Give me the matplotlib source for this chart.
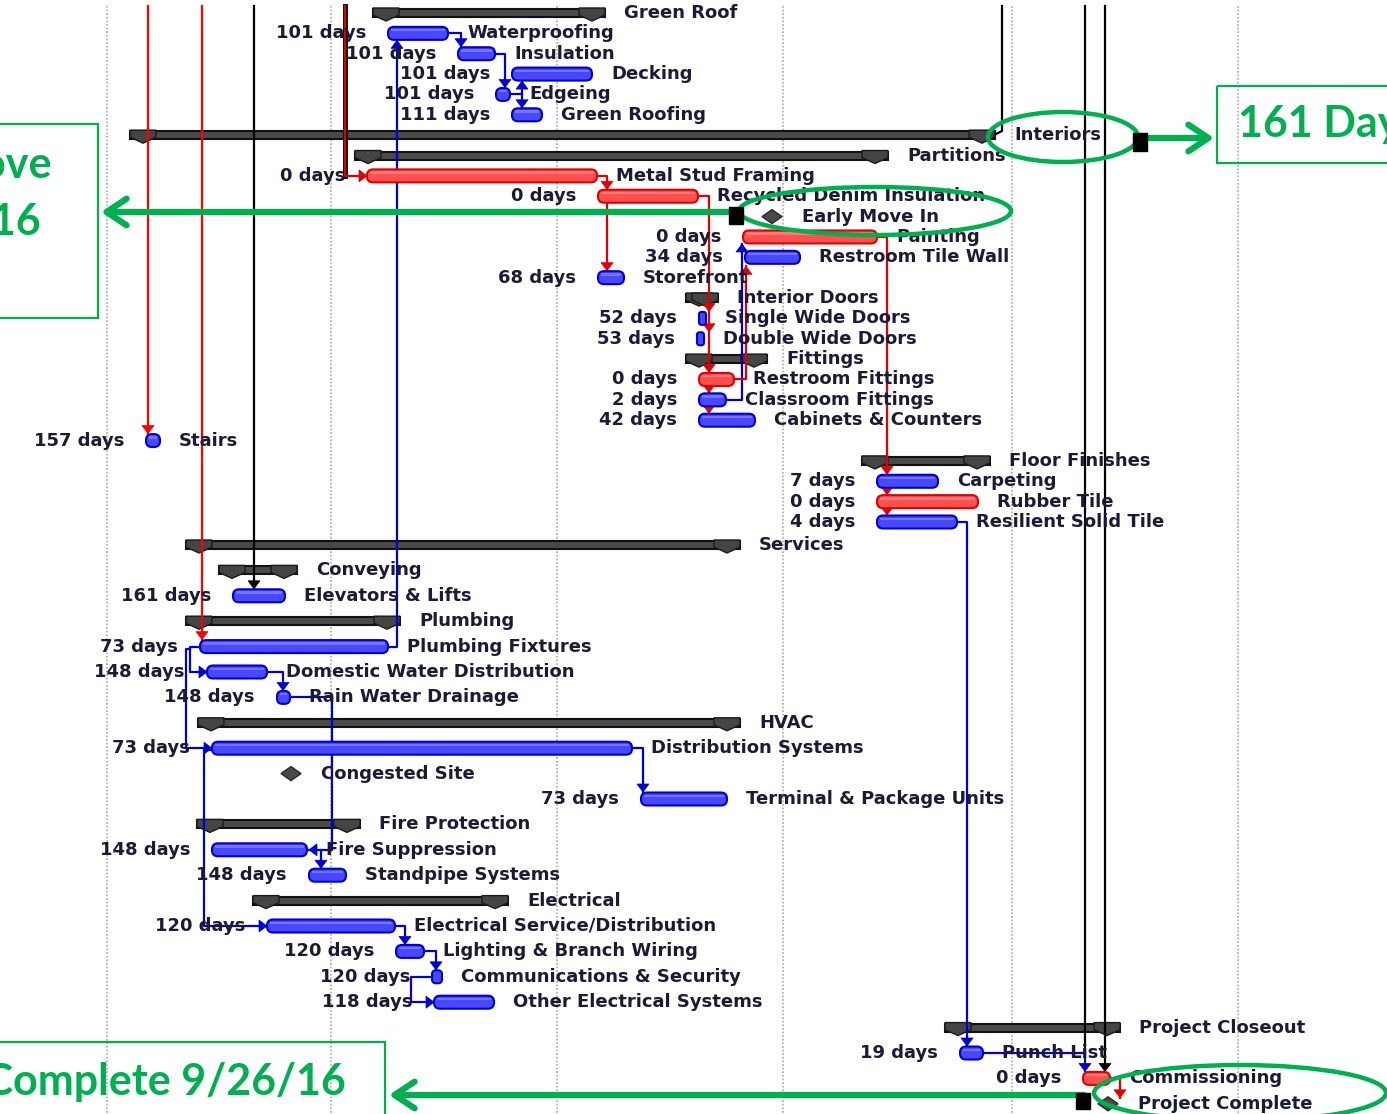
import matplotlib
matplotlib.use('Agg')
import matplotlib.pyplot as plt
from matplotlib.patches import FancyBboxPatch, Polygon, Rectangle, Ellipse

W, H = 1387, 1114

# schedule rows, top to bottom (start/finish on the timeline scale of the view)
names = ['Green Roof', 'Waterproofing', 'Insulation', 'Decking', 'Edgeing', 'Green Roofing',
         'Interiors', 'Partitions', 'Metal Stud Framing', 'Recycled Denim Insulation',
         'Early Move In', 'Painting', 'Restroom Tile Wall', 'Storefront', 'Interior Doors',
         'Single Wide Doors', 'Double Wide Doors', 'Fittings', 'Restroom Fittings',
         'Classroom Fittings', 'Cabinets & Counters', 'Stairs', 'Floor Finishes', 'Carpeting',
         'Rubber Tile', 'Resilient Solid Tile',
         'Services', 'Conveying', 'Elevators & Lifts', 'Plumbing', 'Plumbing Fixtures',
         'Domestic Water Distribution', 'Rain Water Drainage', 'HVAC', 'Distribution Systems',
         'Congested Site', 'Terminal & Package Units', 'Fire Protection', 'Fire Suppression',
         'Standpipe Systems', 'Electrical', 'Electrical Service/Distribution',
         'Lighting & Branch Wiring', 'Communications & Security', 'Other Electrical Systems',
         'Project Closeout', 'Punch List', 'Commissioning', 'Project Complete']
kinds = ['sum', 'task', 'task', 'task', 'task', 'task',
         'sum', 'sum', 'crit', 'crit',
         'mile', 'crit', 'task', 'task', 'sum',
         'task', 'task', 'sum', 'crit',
         'task', 'task', 'task', 'sum', 'task',
         'crit', 'task',
         'sum', 'sum', 'task', 'sum', 'task',
         'task', 'task', 'sum', 'task',
         'mile', 'task', 'sum', 'task',
         'task', 'sum', 'task',
         'task', 'task', 'task',
         'sum', 'task', 'crit', 'mile']
starts = [373, 388, 458, 512, 496, 512,
          130, 355, 367, 598,
          772, 743, 745, 598, 686,
          699, 697, 686, 699,
          699, 699, 146, 862, 877,
          877, 877,
          186, 219, 233, 186, 200,
          207, 277, 198, 212,
          291, 641, 197, 212,
          309, 253, 267,
          396, 432, 434,
          945, 960, 1083, 1108]
finishes = [605, 448, 495, 592, 510, 542,
            995, 888, 597, 698,
            772, 877, 800, 624, 718,
            706, 704, 767, 734,
            726, 755, 160, 990, 938,
            978, 957,
            740, 297, 285, 400, 388,
            267, 290, 740, 632,
            291, 727, 360, 307,
            346, 508, 395,
            424, 442, 494,
            1120, 983, 1110, 1108]
durations = [None, '101 days', '101 days', '101 days', '101 days', '111 days',
             None, None, '0 days', '0 days',
             None, '0 days', '34 days', '68 days', None,
             '52 days', '53 days', None, '0 days',
             '2 days', '42 days', '157 days', None, '7 days',
             '0 days', '4 days',
             None, None, '161 days', None, '73 days',
             '148 days', '148 days', None, '73 days',
             None, '73 days', None, '148 days',
             '148 days', None, '120 days',
             '120 days', '120 days', '118 days',
             None, '19 days', '0 days', None]

# timescale gridlines
grid_x = [107, 331, 557, 783, 1012, 1238]

# predecessors outside the view (timeline x of incoming line, target task, colour)
outside_links = [(148, 'Stairs', 'red'), (202, 'Plumbing Fixtures', 'red'),
                 (254, 'Elevators & Lifts', 'black'), (1105, 'Commissioning', 'black')]

BLUE_FC, BLUE_EC = '#4848ff', '#0000d0'
RED_FC, RED_EC = '#ff5050', '#e00000'
TXT = '#1b1b36'
GREEN = '#00b050'

idx = {n: i for i, n in enumerate(names)}


def row_y(name):
    i = idx[name]
    # two screen grabs stacked: the lower one has taller rows
    return 13 + i * 20.36 if i < 26 else 545 + (i - 26) * 25.4


def s(n):
    return starts[idx[n]]


def f(n):
    return finishes[idx[n]]


def top(n):
    return row_y(n) - 7


def bot(n):
    return row_y(n) + 7


fig = plt.figure(figsize=(W / 100, H / 100), dpi=100)
ax = fig.add_axes([0, 0, 1, 1])
ax.set_xlim(0, W)
ax.set_ylim(H, 0)
ax.axis('off')

for gx in grid_x:
    ax.plot([gx, gx], [6, H], color='#b4b4b4', ls=(0, (1, 1)), lw=1.3, zorder=0)


def arrowhead(x, y, d, color):
    a, b = 8, 6
    if d == 'down':
        pts = [(x - b, y - a), (x + b, y - a), (x, y)]
    elif d == 'up':
        pts = [(x - b, y + a), (x + b, y + a), (x, y)]
    elif d == 'right':
        pts = [(x - a, y - b), (x - a, y + b), (x, y)]
    else:
        pts = [(x + a, y - b), (x + a, y + b), (x, y)]
    ax.add_patch(Polygon(pts, closed=True, fc=color, ec=color, lw=0.5, zorder=4))


def route(pts, color, d=None, heads=()):
    xs = [p[0] for p in pts]
    ys = [p[1] for p in pts]
    ax.plot(xs, ys, color=color, lw=1.6, zorder=3, solid_joinstyle='round')
    if d:
        arrowhead(xs[-1], ys[-1], d, color)
    for hx, hy, hd in heads:
        arrowhead(hx, hy, hd, color)


# lines coming in from above the view
for x0, tgt, col in outside_links:
    route([(x0, 6), (x0, top(tgt))], col, 'down')
ax.plot([345, 345], [6, row_y('Metal Stud Framing')], color='black', lw=3.5, zorder=3)
route([(345, 6), (345, row_y('Metal Stud Framing')), (s('Metal Stud Framing'), row_y('Metal Stud Framing'))],
      RED_EC, 'right')
ax.plot([1002, 1002, 996], [6, 131, 134], color='black', lw=1.6, zorder=3)
ax.plot([1085, 1085], [6, row_y('Punch List')], color='black', lw=1.6, zorder=3)

# dependency links inside the view
y = row_y
route([(f('Waterproofing'), y('Waterproofing')), (s('Insulation') + 3, y('Waterproofing')),
       (s('Insulation') + 3, top('Insulation'))], BLUE_EC, 'down')
route([(f('Insulation'), y('Insulation')), (f('Insulation') + 10, y('Insulation')),
       (f('Insulation') + 10, top('Edgeing'))], BLUE_EC, 'down')
route([(f('Edgeing'), y('Edgeing')), (f('Edgeing') + 12, y('Edgeing')),
       (f('Edgeing') + 12, bot('Decking'))], BLUE_EC, 'up')
route([(f('Edgeing') + 12, y('Edgeing')), (f('Edgeing') + 12, top('Green Roofing'))], BLUE_EC, 'down')
route([(f('Plumbing Fixtures'), y('Plumbing Fixtures')), (f('Plumbing Fixtures') + 9, y('Plumbing Fixtures')),
       (f('Plumbing Fixtures') + 9, bot('Waterproofing'))], BLUE_EC, 'up')
route([(s('Plumbing Fixtures'), y('Plumbing Fixtures')), (s('Plumbing Fixtures') - 10, y('Plumbing Fixtures')),
       (s('Plumbing Fixtures') - 10, y('Domestic Water Distribution')),
       (s('Domestic Water Distribution'), y('Domestic Water Distribution'))], BLUE_EC, 'right')
route([(s('Plumbing Fixtures') - 10, y('Plumbing Fixtures') + 2), (s('Plumbing Fixtures') - 14, y('Plumbing Fixtures') + 2),
       (s('Plumbing Fixtures') - 14, y('Distribution Systems')),
       (s('Distribution Systems'), y('Distribution Systems'))], BLUE_EC, 'right')
route([(f('Domestic Water Distribution'), y('Domestic Water Distribution')),
       (s('Rain Water Drainage') + 6, y('Domestic Water Distribution')),
       (s('Rain Water Drainage') + 6, top('Rain Water Drainage'))], BLUE_EC, 'down')
route([(f('Rain Water Drainage'), y('Rain Water Drainage')), (f('Fire Suppression') + 25, y('Rain Water Drainage')),
       (f('Fire Suppression') + 25, y('Fire Suppression')), (f('Fire Suppression') + 2, y('Fire Suppression'))],
      BLUE_EC, 'left')
route([(s('Standpipe Systems') + 12, y('Fire Suppression')), (s('Standpipe Systems') + 12, top('Standpipe Systems'))],
      BLUE_EC, 'down')
route([(f('Distribution Systems'), y('Distribution Systems')), (s('Terminal & Package Units') + 2, y('Distribution Systems')),
       (s('Terminal & Package Units') + 2, top('Terminal & Package Units'))], BLUE_EC, 'down')
route([(s('Distribution Systems'), y('Distribution Systems') + 2), (s('Distribution Systems') - 8, y('Distribution Systems') + 2),
       (s('Distribution Systems') - 8, y('Electrical Service/Distribution')),
       (s('Electrical Service/Distribution'), y('Electrical Service/Distribution'))], BLUE_EC, 'right')
route([(f('Electrical Service/Distribution'), y('Electrical Service/Distribution')),
       (f('Electrical Service/Distribution') + 10, y('Electrical Service/Distribution')),
       (f('Electrical Service/Distribution') + 10, top('Lighting & Branch Wiring'))], BLUE_EC, 'down')
route([(f('Lighting & Branch Wiring'), y('Lighting & Branch Wiring')),
       (f('Lighting & Branch Wiring') + 12, y('Lighting & Branch Wiring')),
       (f('Lighting & Branch Wiring') + 12, top('Communications & Security'))], BLUE_EC, 'down')
route([(s('Communications & Security'), y('Communications & Security')),
       (s('Communications & Security') - 21, y('Communications & Security')),
       (s('Communications & Security') - 21, y('Other Electrical Systems')),
       (s('Other Electrical Systems'), y('Other Electrical Systems'))], BLUE_EC, 'right')
route([(f('Resilient Solid Tile'), y('Resilient Solid Tile')), (f('Resilient Solid Tile') + 10, y('Resilient Solid Tile')),
       (f('Resilient Solid Tile') + 10, top('Punch List'))], BLUE_EC, 'down')
route([(f('Punch List'), y('Punch List')), (s('Commissioning') + 2, y('Punch List')),
       (s('Commissioning') + 2, top('Commissioning'))], BLUE_EC, 'down')
route([(f('Classroom Fittings'), y('Classroom Fittings')), (s('Painting') - 1, y('Classroom Fittings')),
       (s('Painting') - 1, bot('Painting'))], BLUE_EC, 'up')

# critical path links
xr = s('Recycled Denim Insulation') + 9
route([(f('Metal Stud Framing'), y('Metal Stud Framing')), (xr, y('Metal Stud Framing')), (xr, top('Storefront'))],
      RED_EC, 'down', heads=[(xr, top('Recycled Denim Insulation'), 'down')])
xd = f('Recycled Denim Insulation') + 11
route([(f('Recycled Denim Insulation'), y('Recycled Denim Insulation')), (xd, y('Recycled Denim Insulation')),
       (xd, top('Cabinets & Counters'))], RED_EC, 'down',
      heads=[(xd, top(n), 'down') for n in ['Single Wide Doors', 'Double Wide Doors',
                                            'Restroom Fittings', 'Classroom Fittings']])
route([(f('Restroom Fittings'), y('Restroom Fittings')), (f('Restroom Fittings') + 12, y('Restroom Fittings')),
       (f('Restroom Fittings') + 12, bot('Restroom Tile Wall') + 2)], RED_EC, 'up')
xp = f('Painting') + 10
route([(f('Painting'), y('Painting')), (xp, y('Painting')), (xp, top('Resilient Solid Tile'))], RED_EC, 'down',
      heads=[(xp, top('Carpeting'), 'down'), (xp, top('Rubber Tile'), 'down')])
route([(f('Commissioning'), y('Commissioning')), (f('Commissioning') + 10, y('Commissioning')),
       (f('Commissioning') + 10, y('Project Complete') - 6)], RED_EC, 'down')

# bars, milestones and labels
txt_kw = dict(fontsize=13, fontweight='bold', color=TXT, family='DejaVu Sans', va='center', zorder=6)
for i, n in enumerate(names):
    yy = row_y(n)
    x0, x1, k = starts[i], finishes[i], kinds[i]
    if k == 'sum':
        ax.add_patch(Rectangle((x0, yy - 4), x1 - x0, 8, fc='#4a4a4a', ec='#111111', lw=1.5, zorder=2))
        for cx in (x0, x1 - 26):
            cap = [(cx, yy - 5), (cx + 26, yy - 5), (cx + 26, yy + 2), (cx + 13, yy + 8), (cx, yy + 2)]
            ax.add_patch(Polygon(cap, closed=True, fc='#454545', ec='#1a1a1a', lw=1, zorder=2))
        lx = x1 + 19
    elif k == 'mile':
        ax.add_patch(Polygon([(x0 - 10, yy), (x0, yy - 7), (x0 + 10, yy), (x0, yy + 7)],
                             closed=True, fc='#4a4a4a', ec='#2a2a2a', lw=1, zorder=5))
        lx = x0 + 30
    else:
        fc, ec = (RED_FC, RED_EC) if k == 'crit' else (BLUE_FC, BLUE_EC)
        w = x1 - x0
        r = max(0.5, min(6, w / 2 - 1))
        ax.add_patch(FancyBboxPatch((x0, yy - 6.5), w, 13, boxstyle=f'round,pad=0,rounding_size={r}',
                                    fc=fc, ec=ec, lw=1.5, zorder=5))
        if w > 12:
            ax.add_patch(Rectangle((x0 + 3, yy - 4.5), w - 6, 2.5, fc='white', ec='none', alpha=0.25, zorder=5))
        lx = x1 + 19
    ax.text(lx, yy, n, ha='left', **txt_kw)
    if durations[i]:
        ax.text(x0 - 22, yy, durations[i], ha='right', **txt_kw)

# callouts
g_kw = dict(color=GREEN, fontsize=31, fontweight='bold', family='Lato', va='center', zorder=9)
ax.add_patch(Rectangle((1217, 86), 200, 77, fill=False, ec=GREEN, lw=1.6, zorder=8))
ax.text(1238, 124, '161 Days', ha='left', **g_kw)
ax.add_patch(Rectangle((-10, 124), 108, 194, fill=False, ec=GREEN, lw=1.6, zorder=8))
ax.text(52, 165, 'Early Move', ha='right', **g_kw)
ax.text(41, 222, '7/18/16', ha='right', **g_kw)
ax.add_patch(Rectangle((-10, 1042), 395, 90, fill=False, ec=GREEN, lw=1.6, zorder=8))
ax.text(346, 1082, 'Project Complete 9/26/16', ha='right', **g_kw)

arr = dict(arrowstyle='->,head_length=0.9,head_width=0.6', color=GREEN, lw=4.5, mutation_scale=16,
           shrinkA=0, shrinkB=0)
ax.annotate('', xy=(1214, 138), xytext=(1140, 138), arrowprops=arr, zorder=8)
ax.annotate('', xy=(101, 212), xytext=(737, 212), arrowprops=arr, zorder=8)
ax.annotate('', xy=(389, 1095), xytext=(1084, 1095), arrowprops=arr, zorder=8)

for cx, cy, ew, eh in [(1063, 137, 150, 50), (875, 211, 272, 48), (1240, 1093, 292, 56)]:
    ax.add_patch(Ellipse((cx, cy), ew, eh, fill=False, ec=GREEN, lw=3.2, zorder=8))

for bx, by, bw, bh in [(1133, 133, 14, 18), (729, 207, 14, 17), (1076, 1093, 14, 16)]:
    ax.add_patch(Rectangle((bx, by), bw, bh, fc='black', ec='black', zorder=9))

fig.savefig('out.png', dpi=100)
